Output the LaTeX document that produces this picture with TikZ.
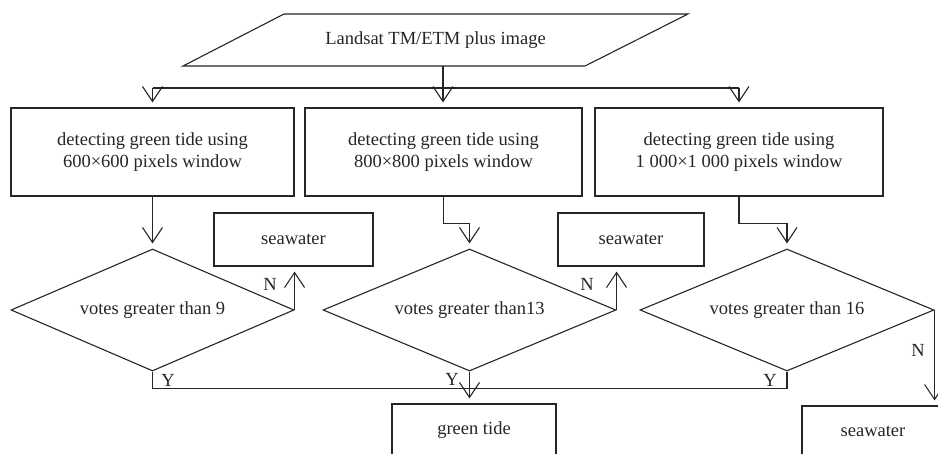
\documentclass[tikz,border=0pt]{standalone}
\usepackage{fontspec}
\setmainfont{Liberation Serif}
\usetikzlibrary{arrows.meta,shapes.geometric,calc}
\begin{document}
\begin{tikzpicture}[x=1pt,y=-1pt,
  every node/.style={font=\fontsize{18.5}{22}\selectfont, text=black!85},
  box/.style={draw=black!85, rectangle, inner sep=0pt, align=center},
  dia/.style={draw=black!85, diamond, aspect=2.3, inner sep=0pt, minimum height=122pt},
  arr/.style={-{Straight Barb[length=15pt,width=20pt]}, shorten >=5pt},
  lbl/.style={inner sep=0pt},
  line width=1.1pt, line join=miter, draw=black!85]
\clip (0,0) rectangle (938,453);
\fill[white] (0,0) rectangle (938,453);
% input parallelogram
\draw (284,14) -- (688,14) -- (585,66) -- (183,66) -- cycle;
\node (src) at (435.5,40) {Landsat TM/ETM plus image};
\coordinate (srcb) at (443,66);
\coordinate (split) at (443,88);
% detection boxes
\node[box, minimum width=283pt, minimum height=88pt] (b1) at (152.5,152) {detecting green tide using\\600×600 pixels window};
\node[box, minimum width=277pt, minimum height=88pt] (b2) at (443.5,152) {detecting green tide using\\800×800 pixels window};
\node[box, minimum width=288pt, minimum height=88pt] (b3) at (739,152) {detecting green tide using\\1 000×1 000 pixels window};
% decisions
\node[dia, minimum width=283pt] (d1) at (152.5,310) {votes greater than 9};
\node[dia, minimum width=293pt] (d2) at (469.5,310) {votes greater than13};
\node[dia, minimum width=294pt] (d3) at (787,310) {votes greater than 16};
% results
\node[box, minimum width=159pt, minimum height=53pt] (s1) at (293.5,239.5) {seawater};
\node[box, minimum width=146pt, minimum height=53pt] (s2) at (631,239.5) {seawater};
\node[box, minimum width=164pt, minimum height=52pt] (g) at (474,430) {green tide};
\node[box, minimum width=142pt, minimum height=50pt] (s3) at (873,431) {seawater};
% connectors
\draw (srcb) -- (split);
\draw (b1.north |- split) -- (b3.north |- split);
\draw[arr] (b1.north |- split) -- (b1.north);
\draw[arr] (split) -- (split |- b2.north);
\draw[arr] (b3.north |- split) -- (b3.north);
\draw[arr] (b1.south) -- (d1.north);
\draw[arr] (b2.south) -- ++(0,26.5) -| (d2.north);
\draw[arr] (b3.south) -- ++(0,26.5) -| (d3.north);
\draw[arr] (d1.east) -- (d1.east |- s1.south);
\draw[arr] (d2.east) -- (d2.east |- s2.south);
\draw[arr] (d3.east) -- (d3.east |- s3.north);
\draw (d1.south) -- ++(0,17) -| (d3.south);
\draw[arr] (d2.south) -- (d2.south |- g.north);
% labels
\node[lbl] (n1) at (270,284) {N};
\node[lbl] (n2) at (587,284) {N};
\node[lbl] (n3) at (918,350) {N};
\node[lbl] (y1) at (168,380) {Y};
\node[lbl] (y2) at (452,379) {Y};
\node[lbl] (y3) at (770,380) {Y};
\end{tikzpicture}
\end{document}
